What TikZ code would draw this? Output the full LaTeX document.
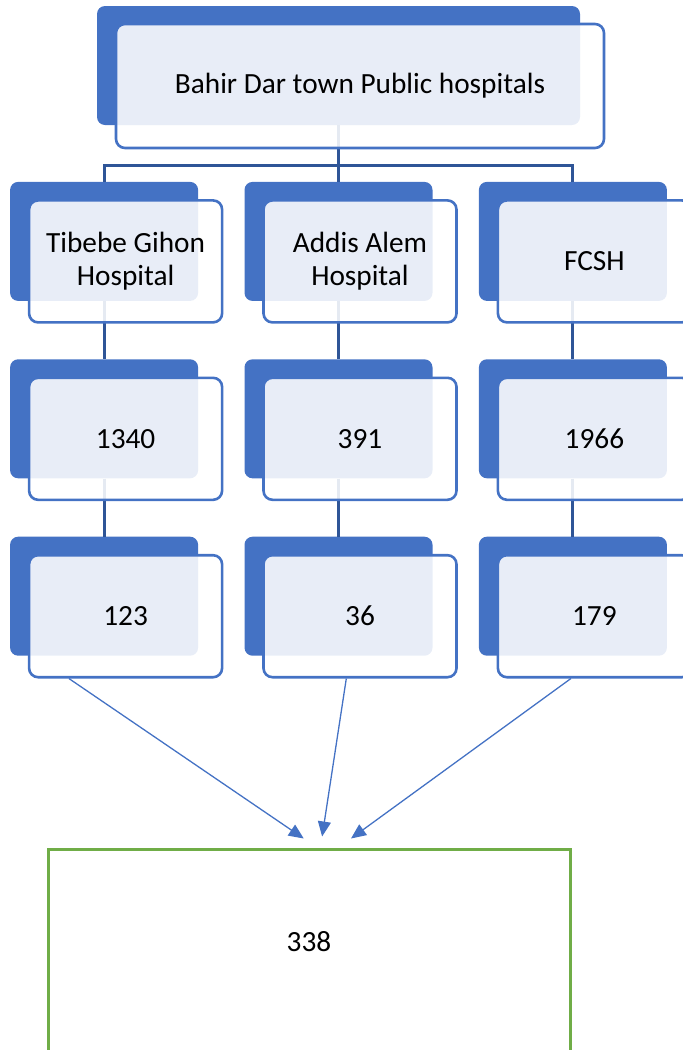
\documentclass[tikz,border=0pt]{standalone}
\usepackage{fontspec}
\setmainfont{Carlito}
\usepackage{xcolor}
\usetikzlibrary{arrows.meta,positioning,calc}
\definecolor{accent}{HTML}{4472C4}
\definecolor{linkblue}{HTML}{2F5597}
\definecolor{sumgreen}{HTML}{70AD47}

\begin{document}
\begin{tikzpicture}[
  x=1pt,y=-1pt,
  node distance=58pt and 46pt,
  every node/.style={font=\fontsize{29.3}{33}\selectfont,align=center,inner sep=0pt},
  back/.style={fill=accent,rounded corners=8pt,minimum width=188pt,minimum height=119pt},
  front/.style={draw=accent,line width=2.6pt,fill=white,fill opacity=0.88,text opacity=1,rounded corners=9pt,minimum width=193pt,minimum height=122pt},
  link/.style={draw=linkblue,line width=3pt},
  arr/.style={-{Triangle[length=15pt,width=13pt]},draw=accent,line width=1.3pt},
  total/.style={draw=sumgreen,line width=3pt,minimum width=522pt,minimum height=202pt,text depth=18pt}
]
\useasboundingbox (0,0) rectangle (683,1050);

% back plates
\node[back,minimum width=483pt] (topb) at (338.5,65.5) {};
\node[back,below=56.5pt of topb] (aa1b) {};
\node[back,left=of aa1b] (tg1b) {};
\node[back,right=of aa1b] (fc1b) {};
\node[back,below=of tg1b] (tg2b) {};
\node[back,below=of aa1b] (aa2b) {};
\node[back,below=of fc1b] (fc2b) {};
\node[back,below=of tg2b] (tg3b) {};
\node[back,below=of aa2b] (aa3b) {};
\node[back,below=of fc2b] (fc3b) {};

% tree links
\coordinate (split) at ($(topb.south)+(0,40)$);
\draw[link] (topb.south) -- (split);
\draw[link] (split) -| (tg1b.north);
\draw[link] (split) -- (split |- aa1b.north);
\draw[link] (split) -| (fc1b.north);
\draw[link] (tg1b) -- (tg2b);
\draw[link] (aa1b) -- (aa2b);
\draw[link] (fc1b) -- (fc2b);
\draw[link] (tg2b) -- (tg3b);
\draw[link] (aa2b) -- (aa3b);
\draw[link] (fc2b) -- (fc3b);

% front cards
\node[front,minimum width=488pt,minimum height=124pt] (top) at ($(topb)+(21.5,20.5)$) {Bahir Dar town Public hospitals};
\node[front] (tg1) at ($(tg1b)+(21.5,20)$) {Tibebe Gihon\\Hospital};
\node[front] (aa1) at ($(aa1b)+(21.5,20)$) {Addis Alem\\Hospital};
\node[front] (fc1) at ($(fc1b)+(21.5,20)$) {FCSH};
\node[front] (tg2) at ($(tg2b)+(21.5,20)$) {1340};
\node[front] (aa2) at ($(aa2b)+(21.5,20)$) {391};
\node[front] (fc2) at ($(fc2b)+(21.5,20)$) {1966};
\node[front] (tg3) at ($(tg3b)+(21.5,20)$) {123};
\node[front] (aa3) at ($(aa3b)+(21.5,20)$) {36};
\node[front] (fc3) at ($(fc3b)+(21.5,20)$) {179};

% sample total
\node[total] (sum) at (309,950) {338};

\coordinate (s1) at ($(tg3.south west)!0.21!(tg3.south east)$);
\coordinate (s2) at ($(aa3.south west)!0.43!(aa3.south east)$);
\coordinate (s3) at ($(fc3.south west)!0.38!(fc3.south east)$);
\coordinate (e1) at ($(sum.north west)!0.49!(sum.north east)+(0,-9)$);
\coordinate (e2) at ($(sum.north west)!0.525!(sum.north east)+(0,-11)$);
\coordinate (e3) at ($(sum.north west)!0.58!(sum.north east)+(0,-9)$);
\draw[arr] (s1) -- (e1);
\draw[arr] (s2) -- (e2);
\draw[arr] (s3) -- (e3);
\end{tikzpicture}
\end{document}
